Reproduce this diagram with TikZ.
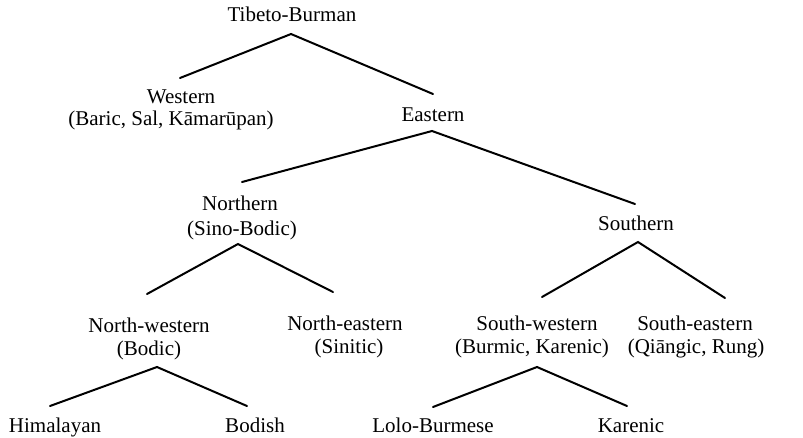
\documentclass[tikz,border=0pt]{standalone}
\usepackage{fontspec}
\setmainfont{Liberation Serif}
\begin{document}
\begin{tikzpicture}[x=1pt,y=-1pt,
  lbl/.style={anchor=base,inner sep=0pt,font=\fontsize{21}{25}\selectfont},
  branch/.style={line width=2pt,line cap=round,line join=miter}]
\useasboundingbox (0,0) rectangle (803,437);
% labels
\node[lbl] (tb) at (292,21.5) {Tibeto-Burman};
\node[lbl] (west) at (181,103) {Western};
\node[lbl] (westsub) at (171,125) {(Baric, Sal, Kāmarūpan)};
\node[lbl] (east) at (433,121) {Eastern};
\node[lbl] (north) at (240,210) {Northern};
\node[lbl] (northsub) at (242,235) {(Sino-Bodic)};
\node[lbl] (south) at (636,230) {Southern};
\node[lbl] (nw) at (149,332) {North-western};
\node[lbl] (nwsub) at (149,355) {(Bodic)};
\node[lbl] (ne) at (345,330) {North-eastern};
\node[lbl] (nesub) at (349,353) {(Sinitic)};
\node[lbl] (sw) at (537,330) {South-western};
\node[lbl] (swsub) at (532,353) {(Burmic, Karenic)};
\node[lbl] (se) at (695,330) {South-eastern};
\node[lbl] (sesub) at (696,353) {(Qiāngic, Rung)};
\node[lbl] (him) at (55,432) {Himalayan};
\node[lbl] (bod) at (255,432) {Bodish};
\node[lbl] (lolo) at (433,432) {Lolo-Burmese};
\node[lbl] (kar) at (631,432) {Karenic};
% branch points
\coordinate (tbA) at (291,34);
\coordinate (westT) at (180,78);
\coordinate (eastT) at (433,94);
\coordinate (eastA) at (432,131);
\coordinate (northT) at (242,182);
\coordinate (southT) at (635,204);
\coordinate (northA) at (238,244);
\coordinate (nwT) at (147,294);
\coordinate (neT) at (333,292);
\coordinate (southA) at (638,242);
\coordinate (swT) at (542,297);
\coordinate (seT) at (725,298);
\coordinate (nwA) at (157,367);
\coordinate (himT) at (50,406);
\coordinate (bodT) at (247,406);
\coordinate (swA) at (537,367);
\coordinate (loloT) at (433,407);
\coordinate (karT) at (627,406);
% branches
\draw[branch] (westT) -- (tbA) -- (eastT);
\draw[branch] (northT) -- (eastA) -- (southT);
\draw[branch] (nwT) -- (northA) -- (neT);
\draw[branch] (swT) -- (southA) -- (seT);
\draw[branch] (himT) -- (nwA) -- (bodT);
\draw[branch] (loloT) -- (swA) -- (karT);
\end{tikzpicture}
\end{document}
